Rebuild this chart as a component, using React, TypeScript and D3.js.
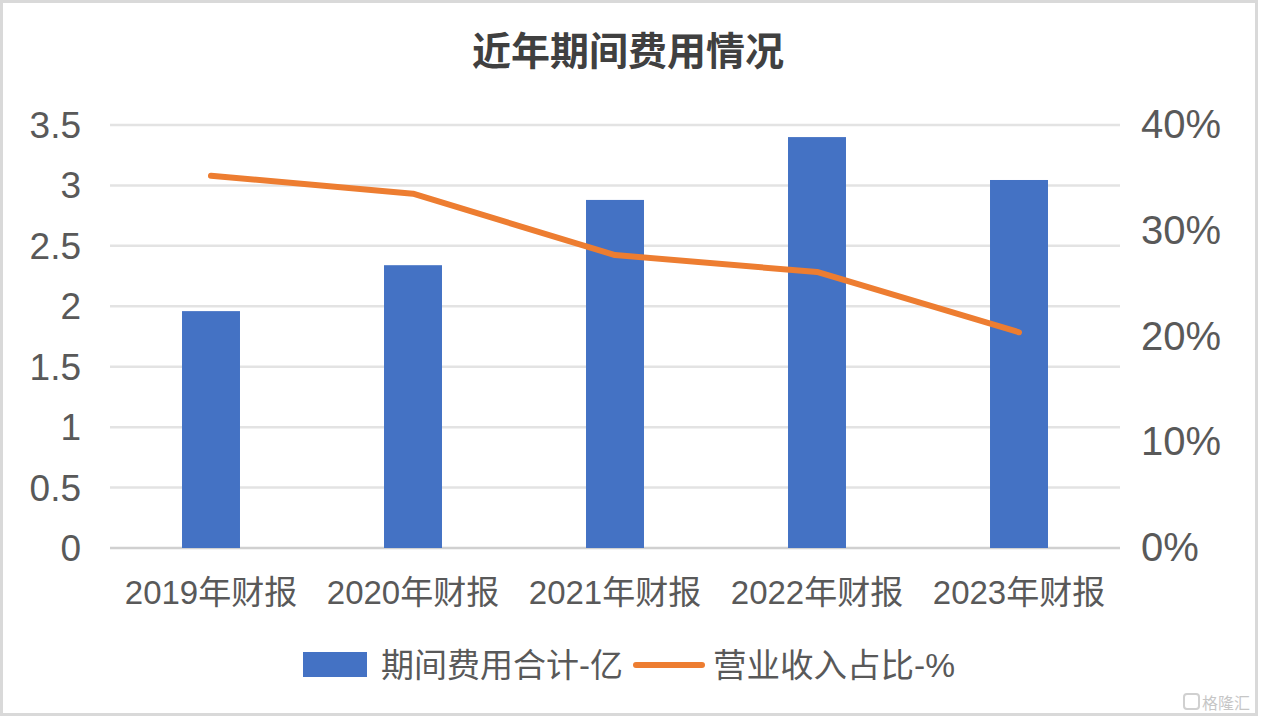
import React from "react";
import * as d3 from "d3";

const categories = ["2019年财报", "2020年财报", "2021年财报", "2022年财报", "2023年财报"];
const expenseValues = [1.96, 2.34, 2.88, 3.4, 3.045];
const ratioValues = [0.352, 0.335, 0.277, 0.261, 0.204];
const leftTicks = [0, 0.5, 1, 1.5, 2, 2.5, 3, 3.5];
const rightTicks = [0, 0.1, 0.2, 0.3, 0.4];
const title = "近年期间费用情况";
const seriesNames = ["期间费用合计-亿", "营业收入占比-%"];

const W = 1261;
const H = 720;
const FONT = "'Liberation Sans', Arial, 'Noto Sans CJK SC', sans-serif";
const TEXT = "#595959";

export default function App() {
  const plotL = 110, plotR = 1120, plotT = 125, plotB = 548;
  const x = d3.scaleBand<string>().domain(categories).range([plotL, plotR]).paddingInner(0.713).paddingOuter(0.3565);
  const yL = d3.scaleLinear().domain([0, 3.5]).range([plotB, plotT]);
  const yR = d3.scaleLinear().domain([0, 0.4]).range([plotB, plotT]);
  const line = d3
    .line<number>()
    .x((_, i) => (x(categories[i]) as number) + x.bandwidth() / 2)
    .y((d) => yR(d));

  return (
    <svg width={W} height={H} style={{ position: "absolute", left: 0, top: 0 }}>
      <rect x={0} y={0} width={W} height={H} fill="#fff" />
      <rect x={1.5} y={1.5} width={1255} height={713} fill="#fff" stroke="#d9d9d9" strokeWidth={3} />
      <text x={628} y={65} textAnchor="middle" fontFamily={FONT} fontSize={39} fontWeight="bold" fill="#404040">
        {title}
      </text>
      {leftTicks.map((t) => (
        <line key={"g" + t} x1={plotL} x2={plotR} y1={yL(t)} y2={yL(t)} stroke={t === 0 ? "#d0d0d0" : "#e3e3e3"} strokeWidth={2.5} />
      ))}
      {leftTicks.map((t) => (
        <text key={"l" + t} x={81} y={yL(t) + 13} textAnchor="end" fontFamily={FONT} fontSize={37} fill={TEXT}>
          {d3.format("~g")(t)}
        </text>
      ))}
      {rightTicks.map((t) => (
        <text key={"r" + t} x={1141} y={yR(t) + 13} textAnchor="start" fontFamily={FONT} fontSize={40} fill={TEXT}>
          {d3.format(".0%")(t)}
        </text>
      ))}
      {categories.map((c, i) => (
        <rect key={c} x={x(c)} y={yL(expenseValues[i])} width={x.bandwidth()} height={plotB - yL(expenseValues[i])} fill="#4472C4" />
      ))}
      <path d={line(ratioValues) || ""} fill="none" stroke="#ED7D31" strokeWidth={6} strokeLinecap="round" strokeLinejoin="round" />
      {categories.map((c) => (
        <text key={"x" + c} x={(x(c) as number) + x.bandwidth() / 2} y={604} textAnchor="middle" fontFamily={FONT} fontSize={33} fill={TEXT}>
          {c}
        </text>
      ))}
      <rect x={303} y={652} width={64} height={25} fill="#4472C4" />
      <text x={381} y={677} fontFamily={FONT} fontSize={33} fill={TEXT} textLength={242} lengthAdjust="spacingAndGlyphs">
        {seriesNames[0]}
      </text>
      <line x1={636} x2={702} y1={665} y2={665} stroke="#ED7D31" strokeWidth={6} strokeLinecap="round" />
      <text x={713} y={677} fontFamily={FONT} fontSize={33} fill={TEXT} textLength={242} lengthAdjust="spacingAndGlyphs">
        {seriesNames[1]}
      </text>
      <g opacity={0.55}>
        <rect x={1184} y={694} width={15} height={15} rx={3} fill="none" stroke="#aaa" strokeWidth={2} />
        <text x={1202} y={709} fontFamily={FONT} fontSize={16} fill="#999">
          格隆汇
        </text>
      </g>
    </svg>
  );
}
